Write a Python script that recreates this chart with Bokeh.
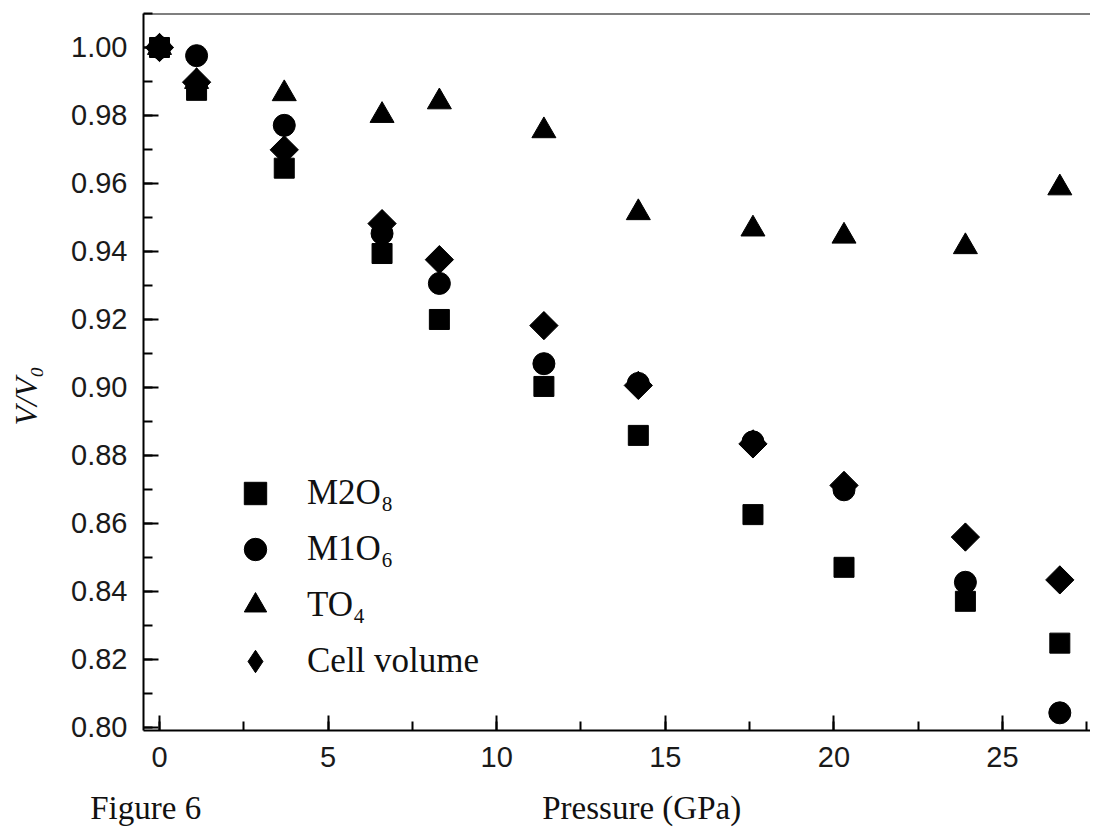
import math
from bokeh.plotting import figure
from bokeh.models import (Range1d, Span, Legend, LegendItem, LinearAxis, FixedTicker,
                          SingleIntervalTicker, PrintfTickFormatter)
from bokeh.embed import file_html
from bokeh.resources import INLINE

# ---- data ----
pressure = [0, 1.1, 3.7, 6.6, 8.3, 11.4, 14.2, 17.6, 20.3, 23.9, 26.7]
m2o8 = [1.000, 0.9874, 0.9645, 0.9394, 0.9200, 0.9003, 0.8859, 0.8626, 0.8471, 0.8371, 0.8248]
m1o6 = [1.000, 0.9976, 0.9771, 0.9453, 0.9306, 0.9070, 0.9012, 0.8840, 0.8699, 0.8427, 0.8043]
to4 = [1.000, 0.9900, 0.9864, 0.9800, 0.9840, 0.9755, 0.9514, 0.9466, 0.9445, 0.9414, 0.9587]
cell = [1.000, 0.9898, 0.9699, 0.9482, 0.9376, 0.9182, 0.9006, 0.8834, 0.8712, 0.8560, 0.8434]

labels = ["M2O\u2088", "M1O\u2086", "TO\u2084", "Cell volume"]
y_title = "V/V\u2080"
x_title = "Pressure (GPa)"
fig_title = "Figure 6"

serif = "Liberation Serif"
ink = "#111111"

p = figure(width=1090, height=836, output_backend="svg", toolbar_location=None,
           x_range=Range1d(-0.4745, 27.61), y_range=Range1d(0.7991, 1.0100),
           min_border_left=143, min_border_right=0, min_border_top=13,
           min_border_bottom=106)
p.outline_line_color = None
p.grid.visible = False
p.background_fill_color = "white"
p.border_fill_color = "white"

for ax in (p.xaxis[0], p.yaxis[0]):
    ax.axis_line_width = 2
    ax.axis_line_color = "black"
    ax.major_tick_line_width = 2
    ax.minor_tick_line_width = 2
    ax.major_tick_in = 15
    ax.major_tick_out = 0
    ax.minor_tick_in = 9
    ax.minor_tick_out = 0
    ax.major_label_text_font = "Liberation Sans"
    ax.major_label_text_font_size = "29px"
    ax.major_label_text_color = "#1a1a1a"
    ax.major_label_standoff = 16

p.xaxis[0].ticker = SingleIntervalTicker(interval=5, num_minor_ticks=2)
p.yaxis[0].ticker = SingleIntervalTicker(interval=0.02, num_minor_ticks=2)
p.yaxis[0].formatter = PrintfTickFormatter(format="%.2f")

# axis titles, carried by label-only axes so that they sit outside the frame
y_pos = 0.8975
ylab = LinearAxis(ticker=FixedTicker(ticks=[y_pos], minor_ticks=[]),
                  major_label_overrides={y_pos: y_title},
                  major_label_orientation="vertical",
                  axis_line_color=None, major_tick_line_color=None,
                  minor_tick_line_color=None, major_label_standoff=18,
                  major_label_text_font=serif, major_label_text_font_style="italic",
                  major_label_text_font_size="32px", major_label_text_color=ink)
p.add_layout(ylab, "left")

fig_pos, xt_pos = -0.41, 14.3
xlab = LinearAxis(ticker=FixedTicker(ticks=[fig_pos, xt_pos], minor_ticks=[]),
                  major_label_overrides={fig_pos: fig_title, xt_pos: x_title},
                  axis_line_color=None, major_tick_line_color=None,
                  minor_tick_line_color=None, major_label_standoff=14,
                  major_label_text_font=serif, major_label_text_font_size="33px",
                  major_label_text_color=ink)
p.add_layout(xlab, "below")

p.add_layout(Span(location=1.01, dimension="width", line_color="black", line_width=2))

r1 = p.scatter(pressure, m2o8, marker="square", size=20, color="black")
r2 = p.scatter(pressure, m1o6, marker="circle", size=22, color="black")
r3 = p.scatter(pressure, to4, marker="triangle", size=24, color="black")
# narrow diamond hidden under the rotated square; it supplies the legend swatch
r4_key = p.scatter(pressure, cell, marker="diamond", size=27, color="black")
r4 = p.scatter(pressure, cell, marker="square", angle=math.pi / 4, size=20, color="black")

legend = Legend(items=[LegendItem(label=labels[0], renderers=[r1]),
                       LegendItem(label=labels[1], renderers=[r2]),
                       LegendItem(label=labels[2], renderers=[r3]),
                       LegendItem(label=labels[3], renderers=[r4_key])],
                location=(84, 41), glyph_width=56, glyph_height=56, spacing=0,
                padding=0, margin=0, label_standoff=24,
                label_text_font=serif, label_text_font_size="35px",
                label_text_color=ink,
                border_line_color=None, background_fill_alpha=0)
p.add_layout(legend)

open("out.html", "w").write(file_html(p, INLINE))
